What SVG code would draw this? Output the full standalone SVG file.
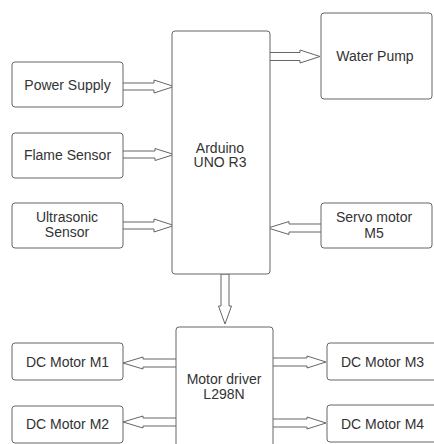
<svg xmlns="http://www.w3.org/2000/svg" width="434" height="444" viewBox="0 0 434 444">
<style>
.box{fill:#fff;stroke:#666;stroke-width:1}
.arr{fill:#fff;stroke:#666;stroke-width:1;stroke-linejoin:miter}
text{font-family:"Liberation Sans",Arial,sans-serif;font-size:14px;fill:#333;text-anchor:middle}
</style>
<rect width="434" height="444" fill="#fff"/>
<g id="connectors">
<polygon class="arr" points="122,83 154,83 154,80 174,86.5 154,93 154,90 122,90"/>
<polygon class="arr" points="122,151 155,151 155,148.5 174,154.5 155,160.5 155,158 122,158"/>
<polygon class="arr" points="122,222 154,222 154,219 174,225.5 154,232 154,229 122,229"/>
<polygon class="arr" points="268,52.5 300,52.5 300,50 320,56.5 300,63 300,60.5 268,60.5"/>
<polygon class="arr" points="322,224 289,224 289,221.5 268,228 289,234.5 289,232 322,232"/>
<polygon class="arr" points="221,274 221,306 218.5,306 225,324 231.5,306 229,306 229,274"/>
<polygon class="arr" points="177,359 143,359 143,357 123,363 143,369 143,367 177,367"/>
<polygon class="arr" points="177,418 143,418 143,416 123,422 143,428 143,426 177,426"/>
<polygon class="arr" points="272,358 307,358 307,356 326,362 307,368 307,366 272,366"/>
<polygon class="arr" points="272,419 307,419 307,417 326,423 307,429 307,427 272,427"/>
</g>
<g id="arduino"><rect class="box" x="172" y="31" width="98" height="243" rx="3"/><text x="220" y="152.5">Arduino</text><text x="220" y="167">UNO R3</text></g>
<g id="power"><rect class="box" x="12" y="62" width="111" height="45" rx="3"/><text x="67.5" y="90">Power Supply</text></g>
<g id="flame"><rect class="box" x="12" y="133" width="111" height="45" rx="3"/><text x="67.5" y="159.5">Flame Sensor</text></g>
<g id="ultrasonic"><rect class="box" x="12" y="203" width="111" height="45" rx="3"/><text x="67" y="221.5">Ultrasonic</text><text x="67" y="237">Sensor</text></g>
<g id="pump"><rect class="box" x="321" y="13" width="111" height="86" rx="3"/><text x="375" y="61">Water Pump</text></g>
<g id="servo"><rect class="box" x="321" y="203" width="111" height="45" rx="3"/><text x="374" y="222">Servo motor</text><text x="374" y="237.5">M5</text></g>
<g id="driver"><rect class="box" x="176" y="327" width="97" height="130" rx="3"/><text x="224" y="384">Motor driver</text><text x="224" y="399">L298N</text></g>
<g id="m1"><rect class="box" x="12" y="343" width="111" height="37" rx="3"/><text x="67.5" y="367">DC Motor M1</text></g>
<g id="m2"><rect class="box" x="12" y="406" width="111" height="37" rx="3"/><text x="67.5" y="429">DC Motor M2</text></g>
<g id="m3"><rect class="box" x="327" y="343" width="111" height="37" rx="3"/><text x="382.5" y="367">DC Motor M3</text></g>
<g id="m4"><rect class="box" x="327" y="405" width="111" height="37" rx="3"/><text x="382.5" y="428.5">DC Motor M4</text></g>
</svg>
